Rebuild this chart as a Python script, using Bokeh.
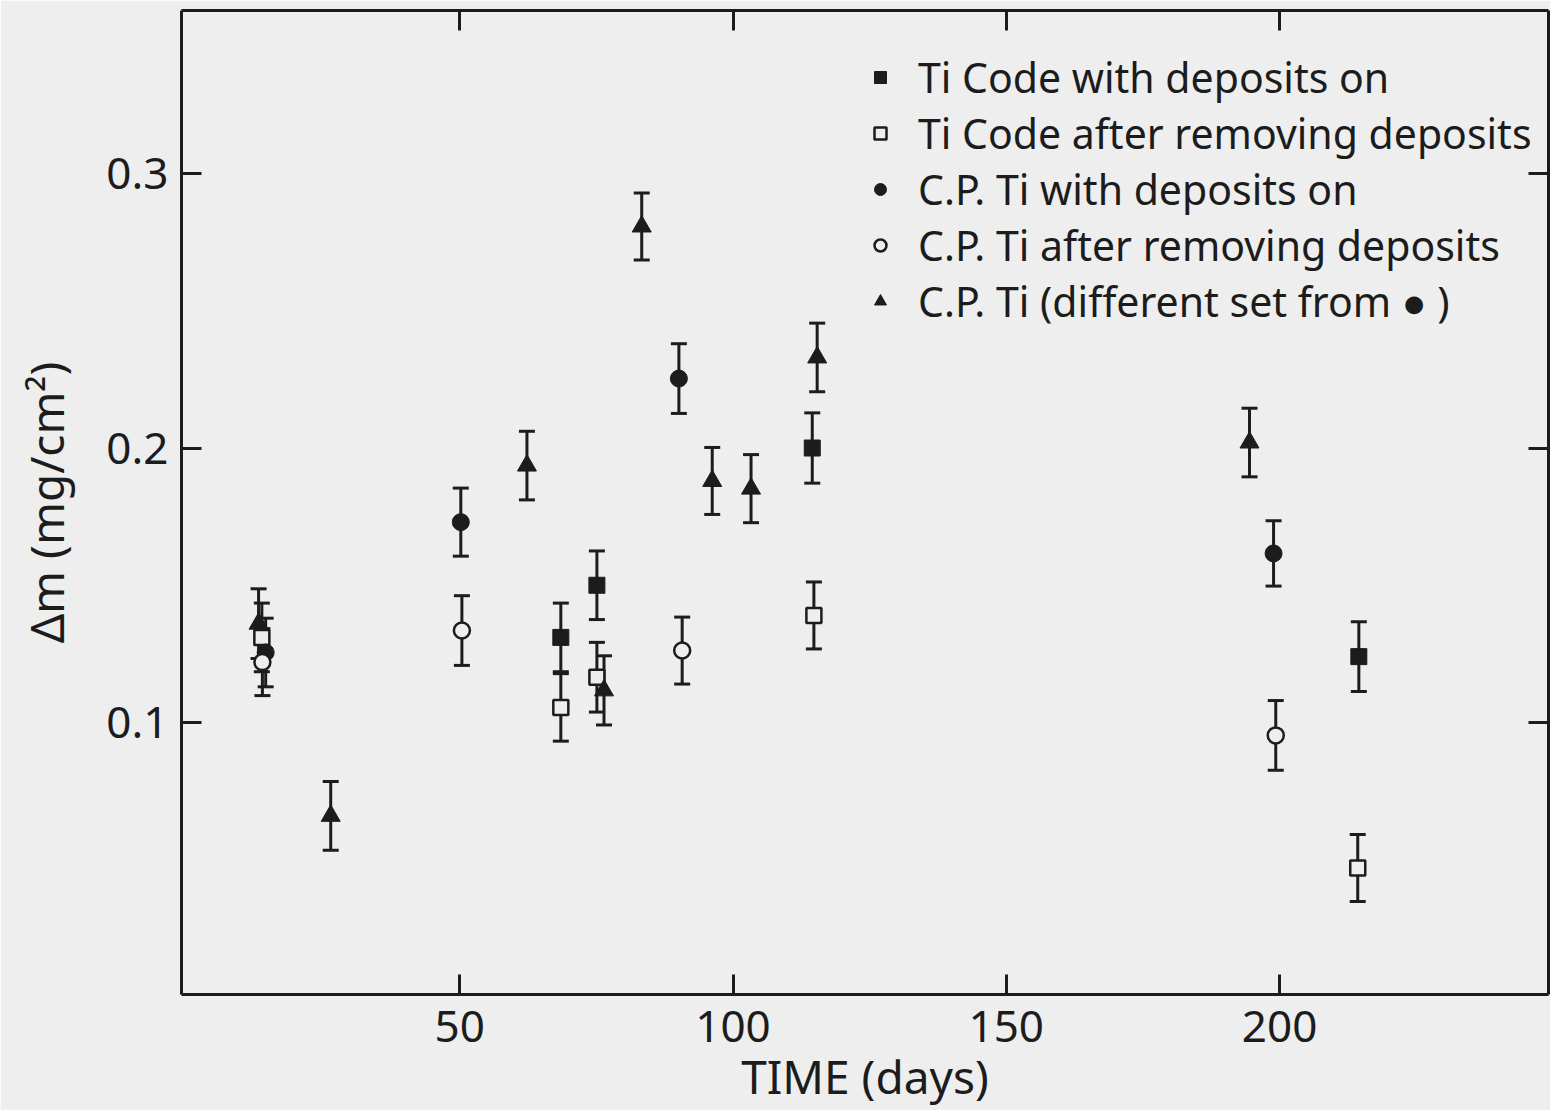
from bokeh.plotting import figure
from bokeh.models import (ColumnDataSource, Whisker, TeeHead, LinearAxis, FixedTicker,
                          Range1d, Legend, LegendItem)
from bokeh.embed import file_html
from bokeh.resources import INLINE

# ---- data (days, mg/cm^2) ----
tc_dep_x = [68.5, 75.1, 114.5, 214.5]
tc_dep_y = [0.131, 0.150, 0.200, 0.124]
tc_dep_err = [0.0125, 0.0125, 0.0128, 0.0127]

tc_rem_x = [13.8, 68.5, 75.1, 114.8, 214.3]
tc_rem_y = [0.131, 0.1055, 0.1165, 0.139, 0.047]
tc_rem_err = [0.0125, 0.0123, 0.0127, 0.0122, 0.0122]

cp_dep_x = [14.5, 50.2, 90.1, 198.9]
cp_dep_y = [0.1255, 0.173, 0.2253, 0.1616]
cp_dep_err = [0.0125, 0.0124, 0.0127, 0.0119]

cp_rem_x = [13.9, 50.4, 90.7, 199.3]
cp_rem_y = [0.122, 0.1335, 0.1262, 0.0953]
cp_rem_err = [0.0122, 0.0127, 0.0122, 0.0127]

cp2_x = [13.2, 26.4, 62.3, 76.4, 83.3, 96.2, 103.3, 115.4, 194.5]
cp2_y = [0.136, 0.066, 0.1936, 0.1117, 0.2807, 0.188, 0.1852, 0.233, 0.202]
cp2_err = [0.0127, 0.0125, 0.0125, 0.0126, 0.0122, 0.0122, 0.0124, 0.0125, 0.0125]

x_ticks = [50, 100, 150, 200]
y_ticks = [0.1, 0.2, 0.3]

labels = [
    "Ti Code with deposits on",
    "Ti Code after removing deposits",
    "C.P. Ti with deposits on",
    "C.P. Ti after removing deposits",
    "C.P. Ti (different set from \u25cf )",
]

BG = "#eeeeee"
INK = "#1c1c1c"
FONT = "Noto Sans"

p = figure(width=1550, height=1110, output_backend="svg", toolbar_location=None,
           x_range=Range1d(-0.9, 249.2), y_range=Range1d(0.0009, 0.3594),
           min_border_left=181, min_border_right=2, min_border_top=10, min_border_bottom=116,
           background_fill_color=BG, border_fill_color=BG)
p.outline_line_color = None
p.grid.visible = False


def style_axis(ax):
    ax.axis_line_width = 3
    ax.axis_line_color = INK
    ax.major_tick_line_width = 3
    ax.major_tick_line_color = INK
    ax.major_tick_in = 20
    ax.major_tick_out = 0
    ax.minor_tick_line_width = 3
    ax.minor_tick_line_color = INK
    ax.minor_tick_in = 20
    ax.minor_tick_out = 0
    ax.major_label_text_font = FONT
    ax.major_label_text_font_size = "44px"
    ax.major_label_text_color = INK
    ax.axis_label_text_font = FONT
    ax.axis_label_text_font_size = "46px"
    ax.axis_label_text_font_style = "normal"
    ax.axis_label_text_color = INK


p.xaxis.ticker = FixedTicker(ticks=x_ticks, minor_ticks=[])
p.yaxis.ticker = FixedTicker(ticks=y_ticks, minor_ticks=[])
p.xaxis.axis_label = "TIME (days)"
p.yaxis.axis_label = "\u0394m (mg/cm\u00b2)"
style_axis(p.xaxis[0])
style_axis(p.yaxis[0])
p.xaxis.major_label_standoff = 16
p.xaxis.axis_label_standoff = 0
p.yaxis.major_label_standoff = 13
p.yaxis.axis_label_standoff = 26

# top and right frame axes: ticks only (as minor ticks, so no labels)
top_ax = LinearAxis(ticker=FixedTicker(ticks=[], minor_ticks=x_ticks))
style_axis(top_ax)
top_ax.major_label_standoff = 0
p.add_layout(top_ax, "above")
right_ax = LinearAxis(ticker=FixedTicker(ticks=[], minor_ticks=y_ticks))
style_axis(right_ax)
right_ax.major_label_standoff = 0
p.add_layout(right_ax, "right")

series = [
    (tc_dep_x, tc_dep_y, tc_dep_err, "square", 16, INK, 1),
    (tc_rem_x, tc_rem_y, tc_rem_err, "square", 15, BG, 2.5),
    (cp_dep_x, cp_dep_y, cp_dep_err, "circle", 17, INK, 1),
    (cp_rem_x, cp_rem_y, cp_rem_err, "circle", 16, BG, 2.5),
    (cp2_x, cp2_y, cp2_err, "triangle", 19, INK, 1),
]

items = []
for (xs, ys, errs, marker, size, fill, lw), lab in zip(series, labels):
    src = ColumnDataSource(dict(x=xs, y=ys,
                                upper=[a + b for a, b in zip(ys, errs)],
                                lower=[a - b for a, b in zip(ys, errs)]))
    w = Whisker(source=src, base="x", upper="upper", lower="lower", dimension="height",
                line_width=3, line_color=INK,
                upper_head=TeeHead(size=16, line_width=3, line_color=INK),
                lower_head=TeeHead(size=16, line_width=3, line_color=INK))
    p.add_layout(w)
    r = p.scatter("x", "y", source=src, marker=marker, size=size,
                  fill_color=fill, line_color=INK, line_width=lw)
    items.append(LegendItem(label=lab, renderers=[r]))

legend = Legend(items=items, location=(684, 665), orientation="vertical",
                label_text_font=FONT, label_text_font_size="41px", label_text_color=INK,
                label_height=55, glyph_height=30, glyph_width=30, label_standoff=23,
                spacing=0, padding=0, margin=0,
                border_line_color=None, background_fill_alpha=0)
p.add_layout(legend)

open("out.html", "w").write(file_html(p, INLINE))
